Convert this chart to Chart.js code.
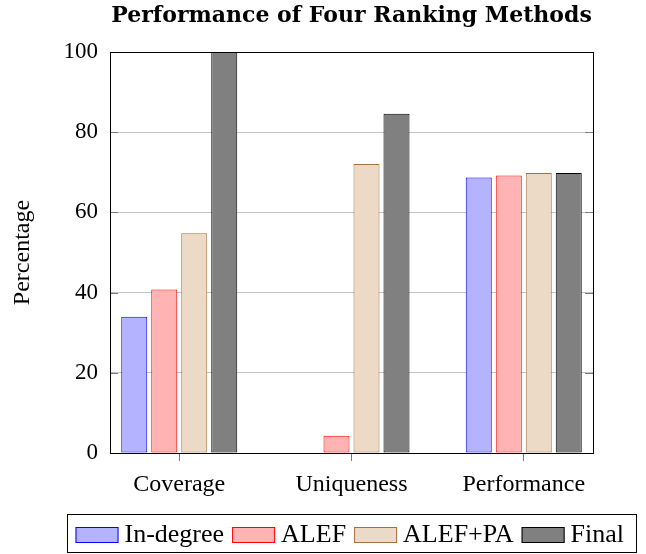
<!DOCTYPE html>
<html>
<head>
<meta charset="utf-8">
<script src="https://cdn.jsdelivr.net/npm/chart.js@4"></script>
<style>
  html, body { margin: 0; padding: 0; background: #fff; }
</style>
</head>
<body>
<canvas id="chart" width="646" height="554"></canvas>
<script>
const categories = ['Coverage', 'Uniqueness', 'Performance'];
const seriesNames = ['In-degree', 'ALEF', 'ALEF+PA', 'Final'];
const inDegree = [34.0, 0, 68.7];
const alef = [40.8, 4.3, 69.2];
const alefPA = [54.8, 72.1, 69.8];
const finalScores = [100, 84.6, 69.8];
const yTicks = [0, 20, 40, 60, 80, 100];

const serif = "'Liberation Serif', 'DejaVu Serif', serif";
const fills = ['#b3b3ff', '#ffb3b3', '#ecd9c6', '#808080'];
const borders = ['#0000ff', '#ff0000', '#a07040', '#000000'];

const toPoints = arr => arr.map((v, i) => ({ x: i, y: v }));

// frame around the plot + small inward ticks like pgfplots
const frame = {
  id: 'frame',
  afterDatasetsDraw(chart) {
    const { ctx, chartArea: a, scales } = chart;
    ctx.save();
    ctx.strokeStyle = '#7a7a7a';
    ctx.lineWidth = 1;
    yTicks.forEach(t => {
      const y = Math.round(scales.y.getPixelForValue(t)) + 0.5;
      ctx.beginPath();
      ctx.moveTo(a.left, y); ctx.lineTo(a.left + 8, y);
      ctx.moveTo(a.right, y); ctx.lineTo(a.right - 8, y);
      ctx.stroke();
    });
    ctx.strokeStyle = '#000';
    ctx.strokeRect(Math.round(a.left) + 0.5, Math.round(a.top) + 0.5,
      Math.round(a.right - a.left), Math.round(a.bottom - a.top));
    ctx.restore();
  }
};

// legend with a box around it, centred under the plot
const boxLegend = {
  id: 'boxLegend',
  afterDraw(chart) {
    const ctx = chart.ctx;
    ctx.save();
    ctx.font = '26px ' + serif;
    const sw = 43, sh = 16, gapText = 6, gapItem = 8, padL = 8, padR = 12;
    const items = chart.data.datasets.map(ds => ({ ds, w: ctx.measureText(ds.label).width }));
    const total = padL + padR + items.reduce((s, it) => s + sw + gapText + it.w, 0) + gapItem * (items.length - 1);
    const cx = (chart.chartArea.left + chart.chartArea.right) / 2;
    const left = Math.round(cx - total / 2) + 0.5;
    ctx.strokeStyle = '#000';
    ctx.lineWidth = 1;
    ctx.strokeRect(left, 514.5, Math.round(total), 38);
    let x = left + padL;
    items.forEach(it => {
      ctx.fillStyle = it.ds.backgroundColor;
      ctx.fillRect(x, 527, sw, sh);
      ctx.strokeStyle = it.ds.borderColor;
      ctx.strokeRect(x + 0.5, 527.5, sw - 1, sh - 1);
      ctx.fillStyle = '#000';
      ctx.textBaseline = 'alphabetic';
      ctx.fillText(it.ds.label, x + sw + gapText, 542);
      x += sw + gapText + it.w + gapItem;
    });
    ctx.restore();
  }
};

const seriesData = [inDegree, alef, alefPA, finalScores];

new Chart(document.getElementById('chart'), {
  type: 'bar',
  data: {
    datasets: seriesNames.map((name, k) => ({
      label: name,
      data: toPoints(seriesData[k]),
      backgroundColor: fills[k],
      borderColor: borders[k],
      borderWidth: 1,
      borderSkipped: false,
      categoryPercentage: 120 / 172.25,
      barPercentage: 26 / 30
    }))
  },
  options: {
    responsive: false,
    animation: false,
    layout: { padding: { right: 53, left: 0, top: 0, bottom: 0 } },
    plugins: {
      legend: { display: false },
      tooltip: { enabled: false },
      title: {
        display: true,
        fullSize: false,
        text: 'Performance of Four Ranking Methods',
        color: '#000',
        font: { family: "'DejaVu Serif', serif", size: 22, weight: 'bold' },
        padding: { top: 3, bottom: 22.6 }
      }
    },
    scales: {
      x: {
        type: 'linear',
        offset: false,
        min: -0.402,
        max: 2.402,
        afterBuildTicks: axis => { axis.ticks = categories.map((c, i) => ({ value: i })); },
        afterFit: scale => { scale.height = 101; },
        ticks: {
          callback: v => categories[v],
          color: '#000',
          font: { family: serif, size: 24 },
          padding: 9,
          maxRotation: 0
        },
        grid: { offset: false, drawOnChartArea: false, drawTicks: true, tickLength: 8, color: '#7a7a7a' },
        border: { display: false }
      },
      y: {
        min: 0,
        max: 100,
        afterBuildTicks: axis => { axis.ticks = yTicks.map(v => ({ value: v })); },
        afterFit: scale => { scale.width = 110; },
        ticks: {
          color: '#000',
          font: { family: serif, size: 23 },
          padding: 12
        },
        grid: { drawTicks: false, color: '#c4c4c4' },
        border: { display: false },
        title: {
          display: true,
          text: 'Percentage',
          color: '#000',
          font: { family: serif, size: 24 },
          padding: { top: 8, bottom: 0 }
        }
      }
    }
  },
  plugins: [frame, boxLegend]
});
</script>
</body>
</html>
